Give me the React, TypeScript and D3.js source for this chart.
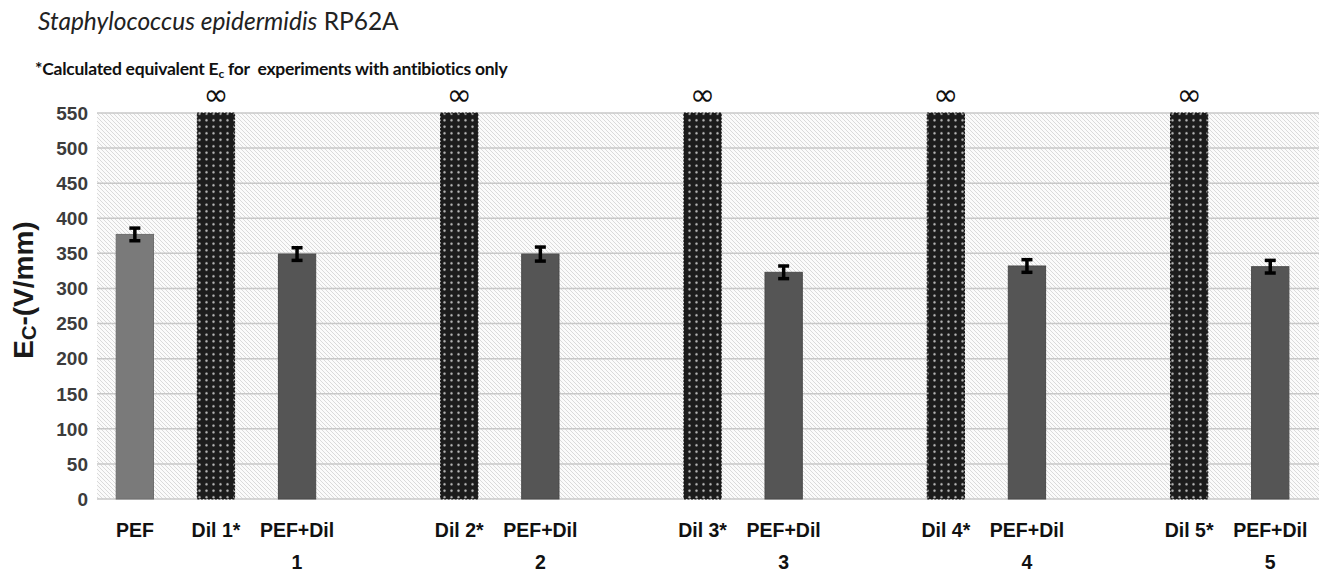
import React, { useEffect, useRef } from "react";
import * as d3 from "d3";

// slots along the x axis, blank slots separate the groups
const categories = [
  "PEF", "Dil 1", "PEF+Dil 1", "gap 1",
  "Dil 2", "PEF+Dil 2", "gap 2",
  "Dil 3", "PEF+Dil 3", "gap 3",
  "Dil 4", "PEF+Dil 4", "gap 4",
  "Dil 5", "PEF+Dil 5",
];
const tickLabels = [
  ["PEF"], ["Dil 1*"], ["PEF+Dil", "1"], [],
  ["Dil 2*"], ["PEF+Dil", "2"], [],
  ["Dil 3*"], ["PEF+Dil", "3"], [],
  ["Dil 4*"], ["PEF+Dil", "4"], [],
  ["Dil 5*"], ["PEF+Dil", "5"],
];
// Ec in V/mm, Infinity = antibiotic alone never reaches it
const values = [
  377, Infinity, 349, null,
  Infinity, 349, null,
  Infinity, 323, null,
  Infinity, 332, null,
  Infinity, 331,
];
const errors = [
  9, 0, 9, 0,
  0, 10, 0,
  0, 9, 0,
  0, 9, 0,
  0, 9,
];
const yTicks = [0, 50, 100, 150, 200, 250, 300, 350, 400, 450, 500, 550];

const W = 1319;
const H = 574;
const margin = { top: 113, right: 0, bottom: 75, left: 97 };

const App = () => {
  const ref = useRef<SVGGElement>(null);

  useEffect(() => {
    const root = d3.select(ref.current);
    root.selectAll("*").remove();

    const y = d3.scaleLinear().domain([0, 550]).range([H - margin.bottom, margin.top]);
    const x = d3.scaleBand()
      .domain(categories)
      .range([94.3, 1310.8])
      .paddingInner(0.54)
      .paddingOuter(0.27);

    const defs = root.append("defs");
    const hatch = defs.append("pattern")
      .attr("id", "hatch")
      .attr("patternUnits", "userSpaceOnUse")
      .attr("width", 4).attr("height", 4);
    hatch.append("rect").attr("width", 4).attr("height", 4).attr("fill", "#fbfbfb");
    hatch.append("path")
      .attr("d", "M-1,-1L5,5M-1,3L1,5M3,-1L5,1")
      .attr("stroke", "#d6d6d6").attr("stroke-width", 0.9);

    const dots = defs.append("pattern")
      .attr("id", "dots")
      .attr("patternUnits", "userSpaceOnUse")
      .attr("width", 7).attr("height", 6.5);
    dots.append("rect").attr("width", 7).attr("height", 6.5).attr("fill", "#1c1c1c");
    dots.append("circle").attr("cx", 3.5).attr("cy", 3.25).attr("r", 1.2).attr("fill", "#c2c2c2");

    // plot background
    root.append("rect")
      .attr("x", margin.left).attr("y", y(550))
      .attr("width", W - margin.left - margin.right)
      .attr("height", y(0) - y(550))
      .attr("fill", "url(#hatch)");

    root.append("g").selectAll("line")
      .data(yTicks)
      .enter().append("line")
      .attr("x1", margin.left).attr("x2", W)
      .attr("y1", d => y(d)).attr("y2", d => y(d))
      .attr("stroke", "#c8c8c8").attr("stroke-width", 1.5);

    root.append("g").selectAll("text")
      .data(yTicks)
      .enter().append("text")
      .attr("x", 88).attr("y", d => y(d))
      .attr("dy", "0.36em")
      .attr("text-anchor", "end")
      .attr("font-family", "'Liberation Sans', Arial, sans-serif")
      .attr("font-weight", "bold").attr("font-size", 19)
      .attr("fill", "#3c3c3c")
      .text(d => d);

    const bars = categories.map((c, i) => ({ c, i, v: values[i], e: errors[i] }))
      .filter(d => d.v !== null);

    const fillFor = (c: string) =>
      c === "PEF" ? "#7a7a7a" : c.startsWith("Dil") ? "url(#dots)" : "#555555";
    const strokeFor = (c: string) =>
      c === "PEF" ? "#6e6e6e" : c.startsWith("Dil") ? "#111" : "#4a4a4a";

    const top = (v: number) => y(Math.min(v, 550));

    root.append("g").selectAll("rect")
      .data(bars)
      .enter().append("rect")
      .attr("x", d => x(d.c)!)
      .attr("y", d => top(d.v as number))
      .attr("width", x.bandwidth())
      .attr("height", d => y(0) - top(d.v as number))
      .attr("fill", d => fillFor(d.c))
      .attr("stroke", d => strokeFor(d.c))
      .attr("stroke-width", 1)
      .attr("stroke-dasharray", d => d.c.startsWith("Dil") ? "2,1.5" : null);

    // error bars
    const eb = root.append("g").selectAll("g")
      .data(bars.filter(d => d.e > 0 && isFinite(d.v as number)))
      .enter().append("g")
      .attr("stroke", "#000");
    const cx = (c: string) => x(c)! + x.bandwidth() / 2;
    eb.append("line")
      .attr("stroke-width", 3.5)
      .attr("x1", d => cx(d.c)).attr("x2", d => cx(d.c))
      .attr("y1", d => y((d.v as number) - d.e)).attr("y2", d => y((d.v as number) + d.e));
    eb.append("line")
      .attr("stroke-width", 3.5)
      .attr("x1", d => cx(d.c) - 5.5).attr("x2", d => cx(d.c) + 5.5)
      .attr("y1", d => y((d.v as number) + d.e)).attr("y2", d => y((d.v as number) + d.e));
    eb.append("line")
      .attr("stroke-width", 3.5)
      .attr("x1", d => cx(d.c) - 5.5).attr("x2", d => cx(d.c) + 5.5)
      .attr("y1", d => y((d.v as number) - d.e)).attr("y2", d => y((d.v as number) - d.e));

    // infinity marks above the antibiotic-only bars
    root.append("g").selectAll("text")
      .data(bars.filter(d => !isFinite(d.v as number)))
      .enter().append("text")
      .attr("x", d => cx(d.c))
      .attr("y", y(550) - 8)
      .attr("text-anchor", "middle")
      .attr("font-family", "'DejaVu Sans', sans-serif")
      .attr("font-size", 30)
      .attr("fill", "#111")
      .text("\u221e");

    // x labels
    const xl = root.append("g").selectAll("text")
      .data(categories.map((c, i) => ({ c, lines: tickLabels[i] })))
      .enter().append("text")
      .attr("text-anchor", "middle")
      .attr("font-family", "'Liberation Sans', Arial, sans-serif")
      .attr("font-weight", "bold").attr("font-size", 19.5)
      .attr("fill", "#111");
    xl.selectAll("tspan")
      .data(d => d.lines.map((t, k) => ({ t, k, c: d.c })))
      .enter().append("tspan")
      .attr("x", d => cx(d.c))
      .attr("y", d => 537 + d.k * 32)
      .text(d => d.t);
  }, []);

  return (
    <svg width={W} height={H} style={{ position: "absolute", left: 0, top: 0, background: "#fff" }}>
      <text x={38} y={30} fontFamily="Lato, 'Open Sans', sans-serif" fontSize={24.5} fill="#222">
        <tspan fontStyle="italic">Staphylococcus epidermidis</tspan>
        <tspan> RP62A</tspan>
      </text>
      <text x={35} y={75} fontFamily="Lato, 'Open Sans', sans-serif" fontSize={17.5} fontWeight="bold" fill="#111" letterSpacing={-0.25} style={{ whiteSpace: "pre" }}>
        <tspan>*Calculated equivalent E</tspan>
        <tspan fontSize={12} dy={3}>c</tspan>
        <tspan dy={-3}>{" for  experiments with antibiotics only"}</tspan>
      </text>
      <text
        transform="translate(33,290) rotate(-90)"
        textAnchor="middle"
        fontFamily="'Liberation Sans', Arial, sans-serif"
        fontWeight="bold"
        fontSize={28}
        fill="#1a1a1a"
      >
        <tspan>E</tspan>
        <tspan fontSize={20} dy={3}>C</tspan>
        <tspan dy={-3}>-(V/mm)</tspan>
      </text>
      <g ref={ref} />
    </svg>
  );
};

export default App;
